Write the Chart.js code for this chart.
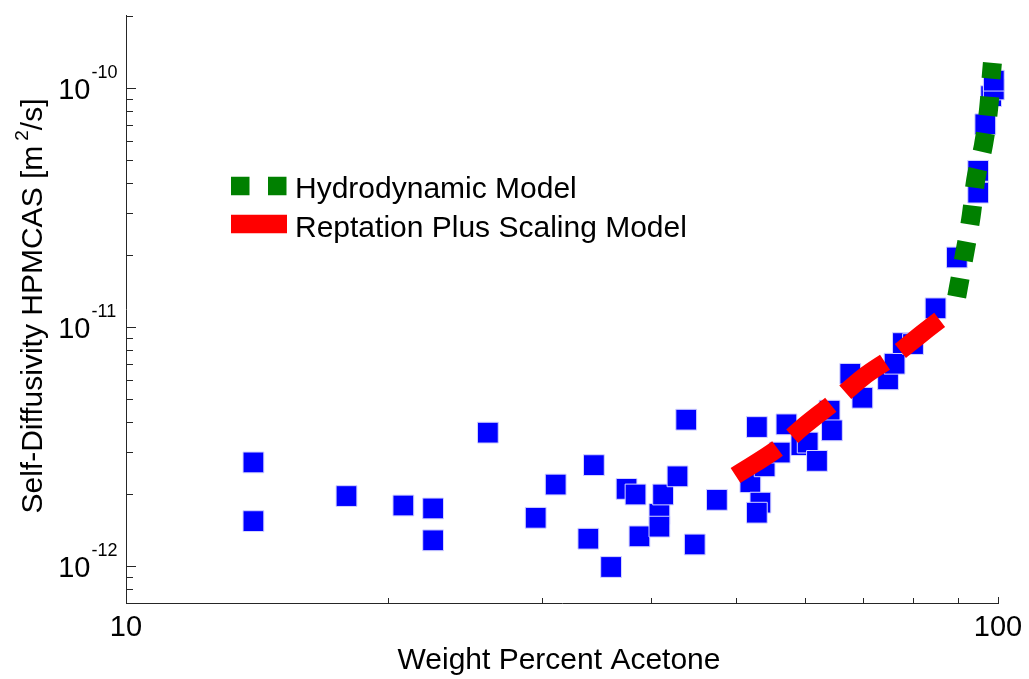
<!DOCTYPE html>
<html>
<head>
<meta charset="utf-8">
<script src="https://cdn.jsdelivr.net/npm/chart.js@4.4.0/dist/chart.umd.min.js"></script>
<style>
  body { margin: 0; background: #fff; }
</style>
</head>
<body>
<canvas id="diffChart" width="1029" height="679"></canvas>
<script>
// measured self-diffusivity (blue squares)
const acetoneWt = [14.0, 14.0, 17.9, 20.8, 22.5, 22.5, 26.0, 29.5, 31.1, 33.9, 34.4, 36.0, 37.5, 38.4, 38.8, 40.9,
  40.9, 41.3, 42.9, 43.9, 44.9, 47.6, 52.0, 52.9, 53.4, 52.9, 54.0, 56.2, 57.2, 59.5, 60.5, 62.0,
  64.1, 64.5, 67.7, 69.9, 74.8, 76.1, 77.8, 79.9, 84.8, 89.7, 94.9, 94.9, 96.7, 98.2, 98.9, 98.9];
const selfDiff = [2.71e-12, 1.54e-12, 1.96e-12, 1.79e-12, 1.74e-12, 1.28e-12, 3.61e-12, 1.59e-12, 2.19e-12, 1.30e-12,
  2.64e-12, 9.9e-13, 2.10e-12, 1.99e-12, 1.33e-12, 1.65e-12, 1.46e-12, 1.99e-12, 2.37e-12, 4.09e-12, 1.23e-12,
  1.89e-12, 2.24e-12, 3.81e-12, 1.84e-12, 1.67e-12, 2.61e-12, 2.98e-12, 3.91e-12, 3.20e-12, 3.28e-12, 2.75e-12,
  4.46e-12, 3.69e-12, 6.36e-12, 5.05e-12, 6.03e-12, 7.01e-12, 8.55e-12, 8.47e-12, 1.195e-11, 1.95e-11,
  4.49e-11, 3.64e-11, 7.03e-11, 9.22e-11, 9.83e-11, 1.07e-10];

// model curves
const hydroWt = [89.67, 90.07, 91.63, 93.17, 94.27, 96.27, 97.57, 98.32, 98.53];
const hydroD = [1.336e-11, 1.459e-11, 2.055e-11, 2.913e-11, 4.104e-11, 5.8e-11, 8.22e-11, 1.161e-10, 1.27e-10];
const reptWt = [50, 56, 60, 65, 70, 76, 82, 88];
const reptD = [2.39e-12, 3.12e-12, 3.87e-12, 4.88e-12, 6.15e-12, 7.56e-12, 9.44e-12, 1.15e-11];

// axes
const xMin = 10, xMax = 100;
const yMin = 7e-13, yMax = 2e-10;
const xTickVals = [10, 100];
const xTickLabels = ['10', '100'];
const yTickVals = [1e-12, 1e-11, 1e-10];
const yTickExps = ['-12', '-11', '-10'];

const FONT = '"Liberation Sans", Arial, Helvetica, sans-serif';
function setFont(ctx, size) { ctx.font = size + 'px ' + FONT; }

const pts = (xs, ys) => xs.map((v, i) => ({ x: v, y: ys[i] }));

// ticks, tick labels, axis titles and legend (MATLAB style)
const axisDecor = {
  id: 'axisDecor',
  afterDraw(chart) {
    const { ctx, chartArea: a, scales: { x, y } } = chart;
    ctx.save();
    ctx.strokeStyle = '#262626';
    ctx.lineWidth = 1;
    ctx.beginPath();
    for (let e = -13; e <= -10; e++) {
      for (let m = 1; m <= 9; m++) {
        const v = m * Math.pow(10, e);
        if (v < yMin * 0.999 || v > yMax * 1.001) continue;
        const py = Math.round(y.getPixelForValue(v)) + 0.5;
        ctx.moveTo(a.left, py);
        ctx.lineTo(a.left + (m === 1 ? 10 : 7), py);
      }
    }
    for (let m = 1; m <= 10; m++) {
      const px = Math.round(x.getPixelForValue(m * 10)) + 0.5;
      ctx.moveTo(px, a.bottom);
      ctx.lineTo(px, a.bottom - (m === 1 || m === 10 ? 6 : 5));
    }
    ctx.stroke();

    ctx.fillStyle = '#000';
    ctx.textBaseline = 'alphabetic';

    // y tick labels 10^n
    yTickVals.forEach((v, i) => {
      const py = y.getPixelForValue(v);
      setFont(ctx, 29);
      ctx.textAlign = 'right';
      ctx.fillText('10', a.left - 35.5, py + 11);
      setFont(ctx, 18);
      ctx.textAlign = 'left';
      ctx.fillText(yTickExps[i], a.left - 34.5, py - 9.5);
    });

    // x tick labels
    setFont(ctx, 29);
    ctx.textAlign = 'center';
    xTickVals.forEach((v, i) => {
      ctx.fillText(xTickLabels[i], x.getPixelForValue(v), a.bottom + 33);
    });

    // x title
    setFont(ctx, 30);
    ctx.fillText('Weight Percent Acetone', 559, a.bottom + 65.5);

    // y title with superscript
    ctx.save();
    ctx.translate(41.5, 306);
    ctx.rotate(-Math.PI / 2);
    ctx.textAlign = 'left';
    const p1 = 'Self-Diffusivity HPMCAS [m', p2 = '2', p3 = '/s]';
    setFont(ctx, 30); const w1 = ctx.measureText(p1).width, w3 = ctx.measureText(p3).width;
    setFont(ctx, 19); const w2 = ctx.measureText(p2).width;
    const gap = 5;
    let cx = -(w1 + gap + w2 + w3) / 2;
    setFont(ctx, 30); ctx.fillText(p1, cx, 0); cx += w1 + gap;
    setFont(ctx, 19); ctx.fillText(p2, cx, -14); cx += w2;
    setFont(ctx, 30); ctx.fillText(p3, cx, 0);
    ctx.restore();

    // legend
    const hydro = chart.data.datasets[0], rept = chart.data.datasets[1];
    ctx.lineCap = 'butt';
    ctx.strokeStyle = hydro.borderColor;
    ctx.lineWidth = 18.3;
    ctx.setLineDash([18.5, 18.5]);
    ctx.beginPath(); ctx.moveTo(231, 186); ctx.lineTo(287, 186); ctx.stroke();
    ctx.strokeStyle = rept.borderColor;
    ctx.setLineDash([]);
    ctx.beginPath(); ctx.moveTo(231, 224); ctx.lineTo(287, 224); ctx.stroke();
    setFont(ctx, 30);
    ctx.textAlign = 'left';
    ctx.fillText(hydro.label, 295, 197.5);
    ctx.fillText(rept.label, 295, 236.5);
    ctx.restore();
  }
};

const ctx = document.getElementById('diffChart').getContext('2d');

const diffChart = new Chart(ctx, {
  type: 'scatter',
  data: {
    datasets: [{
      label: 'Hydrodynamic Model',
      data: pts(hydroWt, hydroD),
      showLine: true,
      borderColor: '#008000',
      borderWidth: 19,
      borderDash: [19, 17.8],
      borderCapStyle: 'butt',
      cubicInterpolationMode: 'monotone',
      pointRadius: 0,
      clip: false,
      order: 1
    }, {
      label: 'Reptation Plus Scaling Model',
      data: pts(reptWt, reptD),
      showLine: true,
      borderColor: '#ff0000',
      borderWidth: 18,
      borderDash: [50, 19],
      borderCapStyle: 'butt',
      cubicInterpolationMode: 'monotone',
      pointRadius: 0,
      clip: false,
      order: 2
    }, {
      label: 'Data',
      data: pts(acetoneWt, selfDiff),
      pointStyle: 'rect',
      pointRadius: 14.7,
      backgroundColor: '#0000ff',
      borderColor: '#d4d4ff',
      borderWidth: 1,
      clip: false,
      order: 3
    }]
  },
  options: {
    responsive: false,
    animation: false,
    events: [],
    // plot box: left 126, top 8, right 998, bottom 603
    layout: { padding: { top: 8, right: 31, left: 0, bottom: 0 } },
    plugins: {
      legend: { display: false },
      tooltip: { enabled: false }
    },
    scales: {
      x: {
        type: 'logarithmic',
        min: xMin,
        max: xMax,
        grid: { display: false, drawTicks: false },
        ticks: { display: false },
        border: { display: true, color: '#262626', width: 1 },
        afterFit: s => { s.height = 76; }
      },
      y: {
        type: 'logarithmic',
        min: yMin,
        max: yMax,
        grid: { display: false, drawTicks: false },
        ticks: { display: false },
        border: { display: true, color: '#262626', width: 1 },
        afterFit: s => { s.width = 126; }
      }
    }
  },
  plugins: [axisDecor]
});
</script>
</body>
</html>
